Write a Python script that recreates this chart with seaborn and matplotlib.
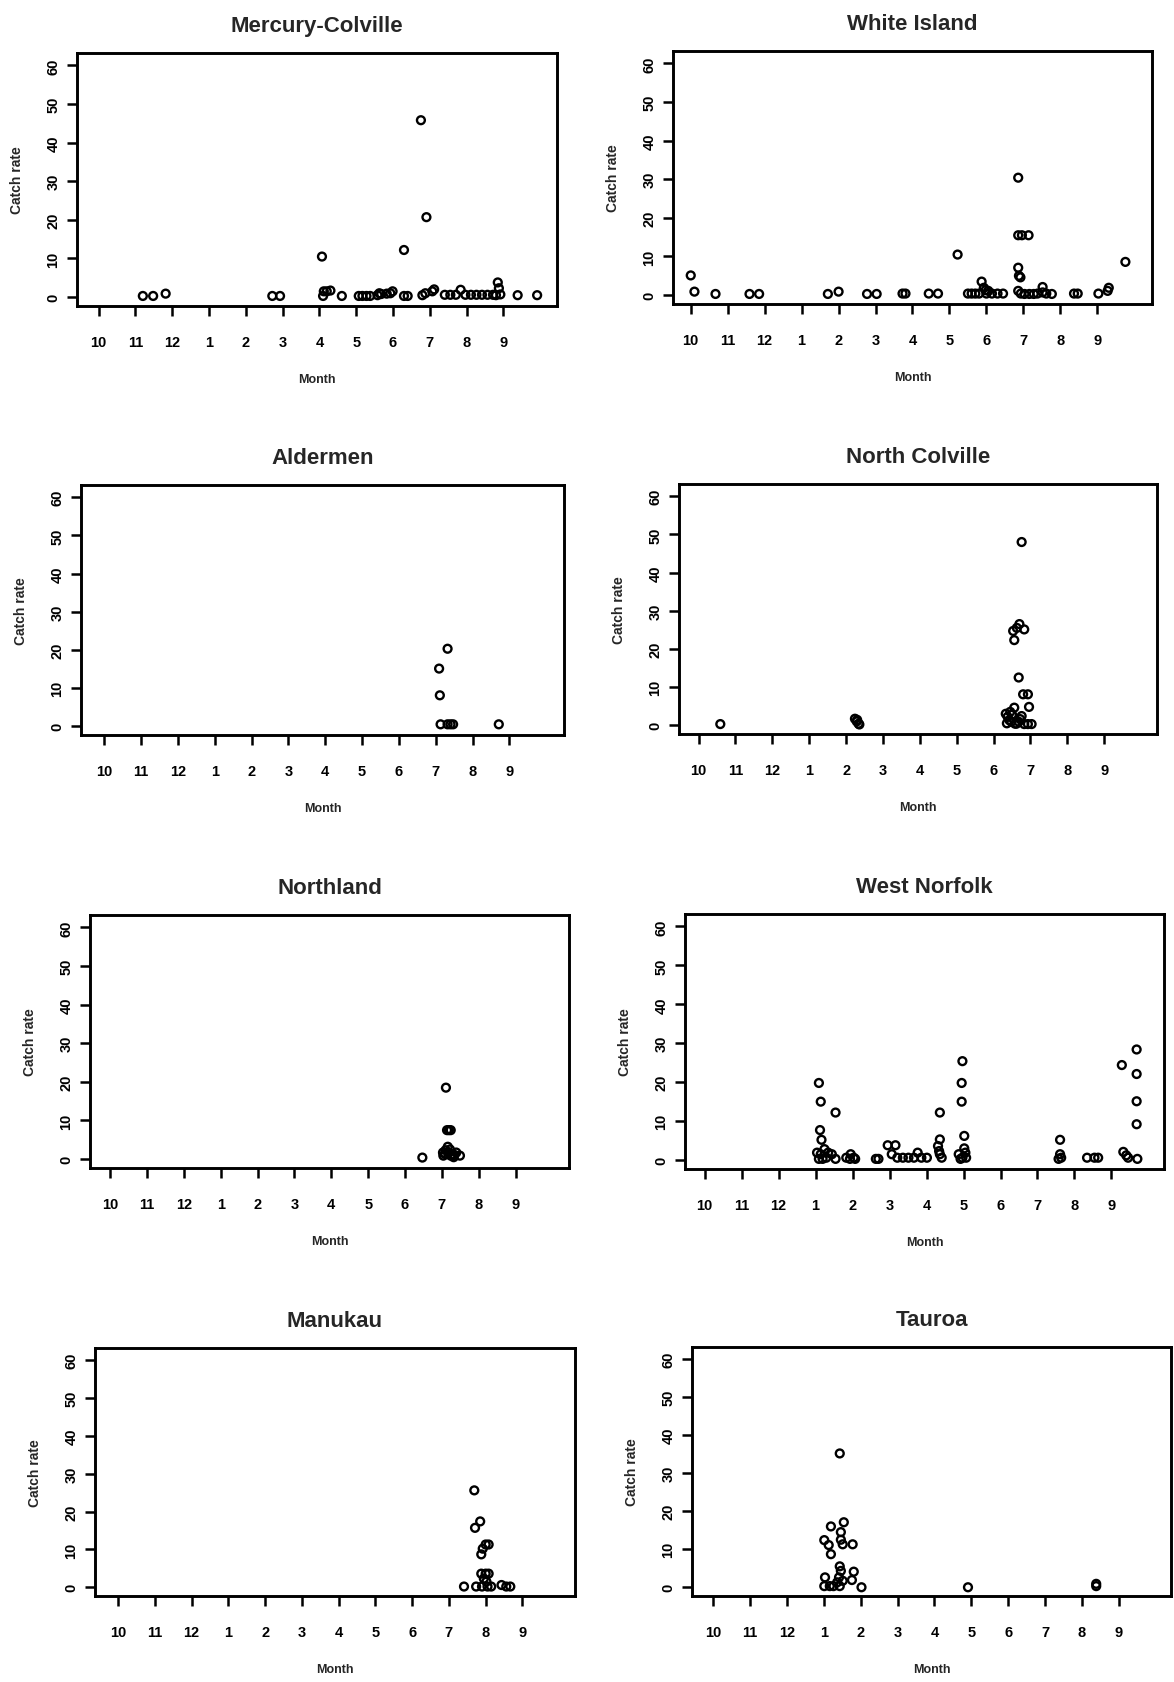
import matplotlib
matplotlib.use("Agg")
import matplotlib.pyplot as plt
import numpy as np
import pandas as pd
import seaborn as sns

# ---------------- DATA ----------------
month_labels = ["10", "11", "12", "1", "2", "3", "4", "5", "6", "7", "8", "9"]
month_pos = list(range(1, 13))
y_ticks = [0, 10, 20, 30, 40, 50, 60]

mercury_x = [2.20, 2.48, 2.82, 5.72, 5.93, 7.07, 7.10, 7.12, 7.20, 7.30, 7.61, 8.07, 8.17, 8.28, 8.38,
             8.58, 8.63, 8.68, 8.83, 8.93, 8.99, 9.30, 9.30, 9.40, 9.76, 9.80, 9.91, 9.88, 10.07, 10.12,
             10.41, 10.56, 10.71, 10.84, 10.97, 11.12, 11.27, 11.42, 11.57, 11.72, 11.85, 11.88, 11.92,
             11.80, 12.39, 12.92]
mercury_y = [0.3, 0.3, 0.9, 0.3, 0.3, 10.5, 0.3, 1.5, 1.5, 1.7, 0.3, 0.3, 0.3, 0.3, 0.3,
             0.5, 1.0, 0.8, 0.9, 1.0, 1.5, 12.2, 0.3, 0.3, 45.8, 0.5, 20.7, 1.0, 1.5, 2.0,
             0.6, 0.6, 0.6, 1.9, 0.6, 0.6, 0.6, 0.6, 0.6, 0.6, 3.8, 2.3, 0.7,
             0.5, 0.5, 0.5]

white_x = [1.00, 1.10, 1.67, 2.59, 2.85, 4.71, 5.00, 5.77, 6.03, 6.73, 6.81, 7.44, 7.69, 8.22, 8.50,
           8.60, 8.70, 8.80, 8.87, 8.93, 8.98, 9.00, 9.05, 9.15, 9.30, 9.45, 9.86, 9.86, 9.96, 10.14,
           9.86, 9.88, 9.92, 9.86, 9.93, 10.03, 10.16, 10.28, 10.38, 10.52, 10.52, 10.62, 10.77,
           11.37, 11.47, 12.03, 12.28, 12.31, 12.76]
white_y = [5.1, 0.9, 0.3, 0.3, 0.3, 0.3, 0.9, 0.3, 0.3, 0.4, 0.4, 0.4, 0.4, 10.5, 0.4,
           0.4, 0.4, 0.4, 3.5, 1.9, 1.3, 0.4, 1.1, 0.4, 0.4, 0.4, 30.4, 15.5, 15.5, 15.5,
           7.1, 5.0, 4.6, 1.1, 0.4, 0.3, 0.3, 0.3, 0.4, 2.1, 0.7, 0.4, 0.3,
           0.4, 0.4, 0.4, 1.1, 1.9, 8.6]

aldermen_x = [10.09, 10.11, 10.32, 10.13, 10.32, 10.40, 10.47, 11.71]
aldermen_y = [15.1, 8.1, 20.3, 0.5, 0.5, 0.5, 0.5, 0.5]

ncolville_x = [1.59, 5.24, 5.29, 5.34, 5.36, 5.30, 9.76, 9.53, 9.63, 9.70, 9.83, 9.56, 9.68, 9.80,
               9.93, 9.96, 9.56, 9.33, 9.38, 9.43, 9.48, 9.36, 9.58, 9.68, 9.76, 9.83, 9.93, 10.03,
               9.45, 9.62, 9.72, 9.50]
ncolville_y = [0.3, 1.7, 1.0, 0.4, 0.2, 1.4, 48.0, 24.7, 25.5, 26.5, 25.1, 22.3, 12.5, 8.1,
               8.1, 4.8, 4.6, 3.0, 2.2, 1.3, 0.9, 0.5, 0.4, 0.9, 2.4, 0.3, 0.3, 0.3,
               3.5, 0.4, 1.6, 2.8]

northland_x = [9.47, 10.11, 10.14, 10.19, 10.24, 10.16, 10.03, 10.09, 10.19, 10.24, 10.34, 10.39,
               10.49, 10.04, 10.29, 10.10, 10.22, 10.32]
northland_y = [0.4, 18.5, 7.5, 7.5, 7.5, 3.2, 1.7, 1.3, 1.7, 0.9, 1.1, 1.7,
               0.9, 0.9, 0.9, 2.3, 2.5, 0.5]

wnorfolk_x = [4.09, 4.14, 4.12, 4.16, 4.04, 4.14, 4.24, 4.34, 4.44, 4.54, 4.09, 4.19, 4.29, 4.54,
              4.83, 4.95, 5.03, 5.07, 4.93, 5.63, 5.70,
              5.95, 6.16, 6.06, 6.21, 6.36, 6.51, 6.66, 6.76, 6.86, 7.01,
              7.36, 7.36, 7.31, 7.34, 7.36, 7.41,
              7.97, 7.95, 7.95, 8.02, 8.02, 7.87, 7.97, 8.07, 7.92, 8.05,
              10.61, 10.61, 10.64, 10.57, 11.34, 11.54, 11.64,
              12.28, 12.32, 12.40, 12.45, 12.68, 12.68, 12.68, 12.68, 12.70]
wnorfolk_y = [19.8, 15.0, 7.7, 5.2, 1.9, 1.5, 2.8, 1.9, 1.5, 0.3, 0.3, 0.3, 0.6, 12.2,
              0.6, 1.5, 0.6, 0.3, 0.3, 0.3, 0.3,
              3.8, 3.8, 1.5, 0.6, 0.6, 0.6, 0.6, 1.9, 0.6, 0.6,
              12.2, 5.3, 3.6, 2.3, 1.5, 0.6,
              25.4, 19.8, 15.0, 6.2, 3.0, 1.5, 0.6, 0.6, 0.3, 1.9,
              5.2, 1.5, 0.6, 0.3, 0.6, 0.6, 0.6,
              24.4, 2.1, 1.2, 0.6, 28.4, 22.1, 15.1, 9.2, 0.3]

manukau_x = [10.41, 10.69, 10.71, 10.85, 10.88, 10.92, 11.00, 11.08, 10.88, 11.00, 11.08, 10.95,
             11.02, 10.74, 10.90, 11.05, 11.15, 11.43, 11.56, 11.67]
manukau_y = [0.2, 25.6, 15.7, 17.4, 8.7, 10.2, 11.3, 11.3, 3.6, 3.6, 3.6, 2.3,
             1.5, 0.2, 0.2, 0.2, 0.2, 0.6, 0.2, 0.2]

tauroa_x = [4.01, 4.19, 4.13, 4.19, 4.03, 4.01, 4.16, 4.26, 4.43, 4.54, 4.46, 4.46, 4.51, 4.78,
            4.43, 4.46, 4.41, 4.51, 4.43, 4.36, 4.81, 4.76, 5.02, 7.91, 11.39, 11.39]
tauroa_y = [12.4, 16.0, 11.1, 8.7, 2.6, 0.3, 0.3, 0.3, 35.2, 17.1, 14.5, 12.5, 11.3, 11.3,
            5.5, 4.3, 2.6, 1.7, 0.3, 1.3, 4.1, 1.9, 0.0, 0.0, 0.9, 0.3]

regions = ["Mercury-Colville", "White Island", "Aldermen", "North Colville",
           "Northland", "West Norfolk", "Manukau", "Tauroa"]
region_x = [mercury_x, white_x, aldermen_x, ncolville_x, northland_x, wnorfolk_x, manukau_x, tauroa_x]
region_y = [mercury_y, white_y, aldermen_y, ncolville_y, northland_y, wnorfolk_y, manukau_y, tauroa_y]

# ---------------- LAYOUT ----------------
W, H = 1174, 1683
# (left, top, right, bottom) of each plot box in pixels
boxes = [(77, 54, 557, 307), (673, 52, 1152, 305),
         (81, 486, 564, 736), (679, 485, 1157, 735),
         (90, 916, 569, 1169), (685, 915, 1164, 1170),
         (95, 1349, 575, 1597), (692, 1348, 1171, 1597)]
xlims = [(0.41, 13.46), (0.52, 13.48), (0.37, 13.48), (0.47, 13.43),
         (0.45, 13.45), (0.47, 13.42), (0.37, 13.43), (0.42, 13.42)]
ylim = (-2.3, 63.2)

sns.set_style("ticks")
plt.rcParams['font.family'] = ['Liberation Sans', 'DejaVu Sans']
plt.rcParams['font.weight'] = 'bold'

fig = plt.figure(figsize=(W / 100, H / 100), dpi=100)
fig.patch.set_facecolor("white")

for name, xs, ys, (l, t, r, b), xl in zip(regions, region_x, region_y, boxes, xlims):
    wpx, hpx = r - l, b - t
    ax = fig.add_axes([l / W, 1 - b / H, wpx / W, hpx / H])
    df = pd.DataFrame({"Month": xs, "Catch rate": ys})
    sns.scatterplot(data=df, x="Month", y="Catch rate", ax=ax, marker="o", s=32,
                    facecolor="none", edgecolor="black", linewidth=1.7, zorder=3)
    ax.set_xlim(*xl)
    ax.set_ylim(*ylim)
    ax.set_xticks(month_pos)
    ax.set_xticklabels(month_labels, fontsize=10.5, fontweight="bold")
    ax.set_yticks(y_ticks)
    ax.set_yticklabels([str(v) for v in y_ticks], rotation=90, va="center",
                       fontsize=10.5, fontweight="bold")
    for sp in ax.spines.values():
        sp.set_visible(True)
        sp.set_linewidth(2.1)
        sp.set_color("black")
    ax.tick_params(direction="out", length=7, width=1.8, colors="black")
    ax.tick_params(axis="x", pad=14)
    ax.tick_params(axis="y", pad=5)
    ax.set_title(name, fontsize=16, fontweight="bold", pad=16)
    ax.set_xlabel("Month", fontsize=9, fontweight="bold")
    ax.xaxis.set_label_coords(0.5, -73 / hpx)
    ax.xaxis.label.set_va("center")
    ax.set_ylabel("Catch rate", fontsize=10, fontweight="bold")
    ax.yaxis.set_label_coords(-60 / wpx, 0.5)
    ax.yaxis.label.set_va("center")
    ax.yaxis.label.set_ha("center")

fig.savefig("out.png", dpi=100, facecolor="white")
